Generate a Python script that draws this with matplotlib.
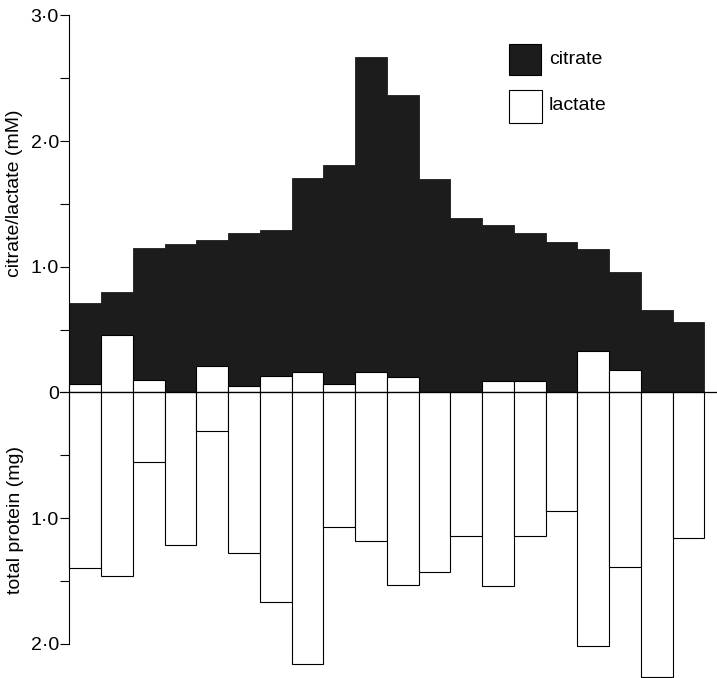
import matplotlib.pyplot as plt
from matplotlib.patches import Rectangle

# values, 20 samples left to right
citrate = [0.71, 0.80, 1.15, 1.18, 1.21, 1.27, 1.29, 1.71, 1.81, 2.67,
           2.37, 1.70, 1.39, 1.33, 1.27, 1.20, 1.14, 0.96, 0.66, 0.56]
lactate = [0.07, 0.46, 0.10, 0.00, 0.21, 0.05, 0.13, 0.16, 0.07, 0.16,
           0.12, 0.00, 0.00, 0.09, 0.09, 0.00, 0.33, 0.18, 0.00, 0.00]
protein = [1.40, 1.46, 0.55, 1.21, 0.31, 1.28, 1.67, 2.16, 1.07, 1.18,
           1.53, 1.43, 1.14, 1.54, 1.14, 0.94, 2.02, 1.39, 2.26, 1.16]

tick_vals = [3.0, 2.0, 1.0, 0.0, -1.0, -2.0]
tick_labels = ['3\u00b70', '2\u00b70', '1\u00b70', '0', '1\u00b70', '2\u00b70']
minor_vals = [2.5, 1.5, 0.5, -0.5, -1.5]

plt.rcParams['font.family'] = ['Liberation Sans', 'DejaVu Sans']

W, H = 717, 678
fig = plt.figure(figsize=(W / 100, H / 100), dpi=100)
ax = fig.add_axes([69.3 / W, 0.0003, 635 / W, 0.9863])

x = list(range(len(citrate)))
dark = '#1c1c1c'

ax.bar(x, citrate, width=1, align='edge', color=dark, edgecolor=dark, linewidth=0.6,
       clip_on=False)
for xi, v in zip(x, lactate):
    if v > 0:
        ax.bar(xi, v, width=1, align='edge', color='white', edgecolor='black',
               linewidth=0.8, clip_on=False)
ax.bar(x, [-p for p in protein], width=1, align='edge', color='white',
       edgecolor='black', linewidth=0.8, clip_on=False)

ax.axhline(0, xmin=-0.0146, xmax=1.02, color='black', linewidth=0.9, clip_on=False)

ax.set_xlim(0, 20)
ax.set_ylim(-2.27, 3.05)
for s in ['top', 'right', 'bottom']:
    ax.spines[s].set_visible(False)
ax.spines['left'].set_bounds(-2, 3)
ax.spines['left'].set_linewidth(0.8)
ax.set_xticks([])
ax.set_yticks(tick_vals)
ax.set_yticklabels(tick_labels, fontsize=14)
ax.set_yticks(minor_vals, minor=True)
ax.tick_params(axis='y', which='both', direction='out', length=6.5, width=0.8, pad=1)
ax.yaxis.get_major_ticks()[3].tick1line.set_visible(False)

fig.text(14.5 / W, 1 - 193 / H, 'citrate/lactate (mM)', rotation=90,
         ha='center', va='center', fontsize=14)
fig.text(16 / W, 1 - 520 / H, 'total protein (mg)', rotation=90,
         ha='center', va='center', fontsize=14)

# legend
fig.patches.append(Rectangle((509 / W, 1 - 75 / H), 32 / W, 31 / H, transform=fig.transFigure,
                             facecolor=dark, edgecolor='black', linewidth=0.8))
fig.patches.append(Rectangle((509 / W, 1 - 123 / H), 33 / W, 33 / H, transform=fig.transFigure,
                             facecolor='white', edgecolor='black', linewidth=0.8))
fig.text(549 / W, 1 - 60 / H, 'citrate', ha='left', va='center', fontsize=14)
fig.text(549 / W, 1 - 106 / H, 'lactate', ha='left', va='center', fontsize=14)

fig.savefig('out.png', dpi=100)
